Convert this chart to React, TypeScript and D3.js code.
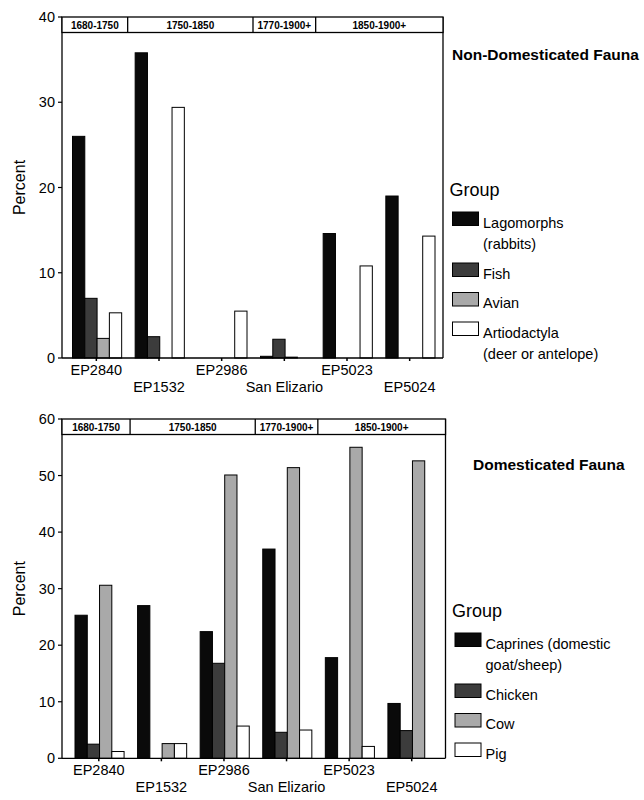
import * as d3 from 'd3';

const sites = ['EP2840', 'EP1532', 'EP2986', 'San Elizario', 'EP5023', 'EP5024'];

const periodLabels = ['1680-1750', '1750-1850', '1770-1900+', '1850-1900+'];
const periodFirstSite = ['EP2840', 'EP1532', 'San Elizario', 'EP5023'];
const periodLastSite = ['EP2840', 'EP2986', 'San Elizario', 'EP5024'];

// Non-domesticated fauna (percent)
const lagomorphs = [26.0, 35.8, 0, 0.2, 14.6, 19.0];
const fish = [7.0, 2.5, 0, 2.2, 0, 0];
const avian = [2.3, 0, 0, 0.1, 0, 0];
const artiodactyla = [5.3, 29.4, 5.5, 0, 10.8, 14.3];

// Domesticated fauna (percent)
const caprines = [25.3, 27.0, 22.4, 37.0, 17.8, 9.7];
const chicken = [2.5, 0, 16.8, 4.6, 0, 4.9];
const cow = [30.6, 2.6, 50.1, 51.4, 55.0, 52.6];
const pig = [1.2, 2.6, 5.7, 5.0, 2.1, 0];

const wildTicks = [0, 10, 20, 30, 40];
const domTicks = [0, 10, 20, 30, 40, 50, 60];

const wildLegend = [['Lagomorphs', '(rabbits)'], ['Fish'], ['Avian'], ['Artiodactyla', '(deer or antelope)']];
const domLegend = [['Caprines (domestic', 'goat/sheep)'], ['Chicken'], ['Cow'], ['Pig']];

const fills = ['#0a0a0a', '#3c3c3c', '#a9a9a9', '#ffffff'];
const FONT = '"Liberation Sans", Arial, sans-serif';

interface PanelProps {
  series: number[][];
  legend: string[][];
  title: string;
  titleX: number;
  titleY: number;
  yMax: number;
  ticks: number[];
  top: number;
  zero: number;
  xStart: number;
  xEnd: number;
  frameRight: number;
  legendX: number;
  groupY: number;
  swatchY: number;
}

function Panel(p: PanelProps) {
  const left = 62;
  const y = d3.scaleLinear().domain([0, p.yMax]).range([p.zero, p.top]);
  const x = d3.scaleBand<string>().domain(sites).range([p.xStart, p.xEnd]).padding(0);
  const keys = p.series.map((_, i) => String(i));
  const sub = d3.scaleBand<string>().domain(keys).range([7.5, x.step() - 6]).padding(0);
  const headerH = 15.5;

  // header divider positions from period boundaries
  const bounds = periodLabels.map((_, i) => {
    const a = i === 0 ? left : (x(periodFirstSite[i]) as number);
    const b = i === periodLabels.length - 1 ? p.frameRight : (x(periodLastSite[i]) as number) + x.step();
    return [a, b];
  });

  let sy = p.swatchY;
  const legendItems = p.legend.map((lines, i) => {
    const item = { lines, i, y: sy };
    sy += 29.5 + 21.5 * (lines.length - 1);
    return item;
  });

  return (
    <g fontFamily={FONT}>
      {/* bars */}
      {sites.map((s, si) => (
        <g key={s} transform={`translate(${x(s)},0)`}>
          {p.series.map((vals, k) => {
            const v = vals[si];
            if (v <= 0) return null;
            return (
              <rect
                key={k}
                x={sub(String(k))}
                y={y(v)}
                width={sub.bandwidth()}
                height={p.zero - y(v)}
                fill={fills[k]}
                stroke="#000"
                strokeWidth={1}
              />
            );
          })}
        </g>
      ))}

      {/* frame */}
      <line x1={left} x2={left} y1={p.top} y2={p.zero} stroke="#000" strokeWidth={1.3} />
      <line x1={p.frameRight} x2={p.frameRight} y1={p.top} y2={p.zero} stroke="#000" strokeWidth={1.3} />
      <line x1={left} x2={p.frameRight} y1={p.zero} y2={p.zero} stroke="#000" strokeWidth={1.3} />

      {/* header band */}
      <rect x={left} y={p.top} width={p.frameRight - left} height={headerH} fill="#fff" stroke="#000" strokeWidth={1.3} />
      {bounds.map(([a, b], i) => (
        <g key={periodLabels[i]}>
          {i > 0 && <line x1={a} x2={a} y1={p.top} y2={p.top + headerH} stroke="#000" strokeWidth={1.3} />}
          <text x={(a + b) / 2} y={p.top + 11.5} fontSize={10} fontWeight="bold" textAnchor="middle">
            {periodLabels[i]}
          </text>
        </g>
      ))}

      {/* y axis */}
      {p.ticks.map((t) => (
        <g key={t}>
          <line x1={left - 4} x2={left} y1={y(t)} y2={y(t)} stroke="#000" strokeWidth={1.2} />
          <text x={55} y={y(t) + 5} fontSize={14.5} textAnchor="end">
            {t}
          </text>
        </g>
      ))}
      <text transform={`translate(25,${(p.top + p.zero) / 2}) rotate(-90)`} fontSize={16} textAnchor="middle">
        Percent
      </text>

      {/* x axis */}
      {sites.map((s, i) => {
        const cx = (x(s) as number) + x.bandwidth() / 2;
        return (
          <g key={s}>
            <line x1={cx} x2={cx} y1={p.zero} y2={p.zero + 3} stroke="#000" strokeWidth={1.5} />
            <text x={cx} y={p.zero + (i % 2 === 0 ? 16.5 : 33.5)} fontSize={14.5} textAnchor="middle">
              {s}
            </text>
          </g>
        );
      })}

      {/* title */}
      <text x={p.titleX} y={p.titleY} fontSize={15.5} fontWeight="bold">
        {p.title}
      </text>

      {/* legend */}
      <text x={p.legendX - 3} y={p.groupY} fontSize={18}>
        Group
      </text>
      {legendItems.map((it) => (
        <g key={it.i}>
          <rect x={p.legendX} y={it.y} width={26} height={13.5} fill={fills[it.i]} stroke="#000" strokeWidth={1} />
          {it.lines.map((ln, j) => (
            <text key={j} x={p.legendX + 30.5} y={it.y + 15.5 + j * 21.5} fontSize={14.5}>
              {ln}
            </text>
          ))}
        </g>
      ))}
    </g>
  );
}

export default function App() {
  return (
    <div style={{ position: 'absolute', left: 0, top: 0 }}>
      <svg width={644} height={800} style={{ display: 'block', background: '#fff' }}>
        <Panel
          series={[lagomorphs, fish, avian, artiodactyla]}
          legend={wildLegend}
          title="Non-Domesticated Fauna"
          titleX={452}
          titleY={60}
          yMax={40}
          ticks={wildTicks}
          top={17}
          zero={358}
          xStart={65}
          xEnd={441}
          frameRight={443}
          legendX={452.5}
          groupY={196}
          swatchY={212}
        />
        <Panel
          series={[caprines, chicken, cow, pig]}
          legend={domLegend}
          title="Domesticated Fauna"
          titleX={473}
          titleY={470}
          yMax={60}
          ticks={domTicks}
          top={419}
          zero={758.3}
          xStart={67.5}
          xEnd={443}
          frameRight={445.5}
          legendX={455}
          groupY={616.5}
          swatchY={633}
        />
      </svg>
    </div>
  );
}
